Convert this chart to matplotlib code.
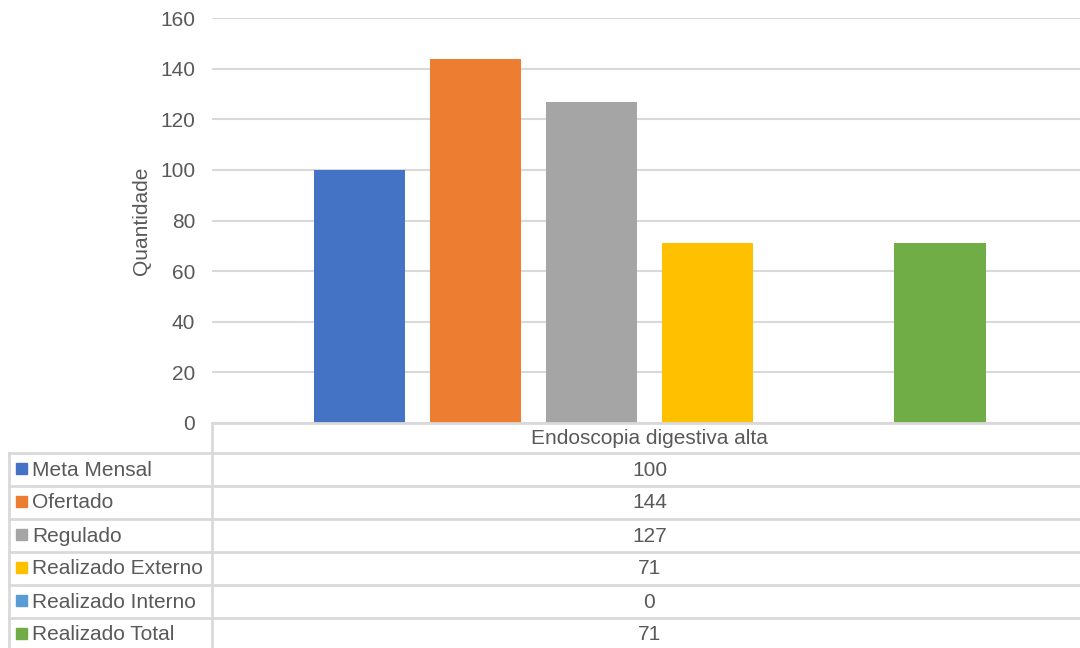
import numpy as np
import matplotlib
matplotlib.use("Agg")
import matplotlib.pyplot as plt

plt.rcParams['font.family'] = ['Liberation Sans', 'DejaVu Sans']

category = "Endoscopia digestiva alta"
series = ["Meta Mensal", "Ofertado", "Regulado", "Realizado Externo",
          "Realizado Interno", "Realizado Total"]
values = [100, 144, 127, 71, 0, 71]
colors = ["#4472C4", "#ED7D31", "#A5A5A5", "#FFC000", "#5B9BD5", "#70AD47"]
yticks = [0, 20, 40, 60, 80, 100, 120, 140, 160]

W, H = 1080, 648
text_c = "#595959"
line_c = "#d9d9d9"
fs = 15

fig = plt.figure(figsize=(W / 100, H / 100), dpi=100)

# plot area in pixels
x0, x1 = 212, 1087
y_top, y_zero = 18, 423
ax = fig.add_axes([x0 / W, (H - y_zero) / H, (x1 - x0) / W, (y_zero - y_top) / H])

step = 0.1326
width = 0.105
n = len(series)
offsets = (np.arange(n) - (n - 1) / 2) * step
for off, v, c in zip(offsets, values, colors):
    ax.bar(off, v, width=width, color=c, zorder=3)

ax.set_xlim(-0.5, 0.5)
ax.set_ylim(0, 160)
ax.set_yticks(yticks)
ax.set_xticks([])
ax.yaxis.grid(True, color=line_c, linewidth=1.5, zorder=0)
for s in ax.spines.values():
    s.set_visible(False)
ax.tick_params(axis='y', length=0, labelsize=fs, labelcolor=text_c, pad=12)
ax.set_ylabel("Quantidade", fontsize=fs, color=text_c)
ax.yaxis.set_label_coords((151 - x0) / (x1 - x0), 0.5)

# data table drawn in pixel coordinates
tb = fig.add_axes([0, 0, 1, 1])
tb.set_xlim(0, W)
tb.set_ylim(H, 0)
tb.axis('off')

lw = 2
row_h = 33
first_row = 453
col_center = (x0 + x1) / 2

# header row
tb.plot([x0, W], [y_zero, y_zero], color=line_c, lw=lw)
tb.plot([x0, x0], [y_zero, H], color=line_c, lw=lw)
tb.text(col_center, (y_zero + first_row) / 2 + 1, category, ha='center', va='center',
        fontsize=fs, color=text_c)

tb.plot([9, 9], [first_row, H], color=line_c, lw=lw)
for i, (name, v, c) in enumerate(zip(series, values, colors)):
    top = first_row + i * row_h
    tb.plot([9, W], [top, top], color=line_c, lw=lw)
    yc = top + row_h / 2
    tb.add_patch(plt.Rectangle((16, yc - 6.5), 11, 11, color=c))
    tb.text(32, yc + 0.5, name, ha='left', va='center', fontsize=fs, color=text_c)
    tb.text(col_center, yc + 0.5, str(v), ha='center', va='center', fontsize=fs, color=text_c)

fig.savefig("out.png", dpi=100)
